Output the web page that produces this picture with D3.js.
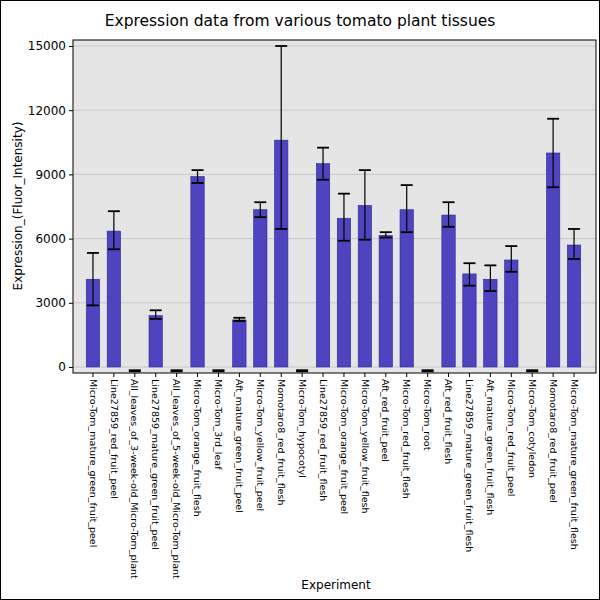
<!DOCTYPE html><html><head><script src="https://cdn.jsdelivr.net/npm/d3@7"></script>
<style>body{margin:0;background:#fff}</style></head><body><svg id="c" width="600" height="600"></svg>
<script>
const categories=["Micro-Tom_mature_green_fruit_peel","Line27859_red_fruit_peel","All_leaves_of_3-week-old_Micro-Tom_plant","Line27859_mature_green_fruit_peel","All_leaves_of_5-week-old_Micro-Tom_plant","Micro-Tom_orange_fruit_flesh","Micro-Tom_3rd_leaf","Aft_mature_green_fruit_peel","Micro-Tom_yellow_fruit_peel","Momotaro8_red_fruit_flesh","Micro-Tom_hypocotyl","Line27859_red_fruit_flesh","Micro-Tom_orange_fruit_peel","Micro-Tom_yellow_fruit_flesh","Aft_red_fruit_peel","Micro-Tom_red_fruit_flesh","Micro-Tom_root","Aft_red_fruit_flesh","Line27859_mature_green_fruit_flesh","Aft_mature_green_fruit_flesh","Micro-Tom_red_fruit_peel","Micro-Tom_cotyledon","Momotaro8_red_fruit_peel","Micro-Tom_mature_green_fruit_flesh"];
const values=[4100,6350,0,2400,0,8900,0,2200,7350,10600,0,9500,6950,7550,6150,7350,0,7100,4350,4100,5000,0,10000,5700];
const errLow=[2880,5500,-200,2250,-200,8600,-200,2150,7000,6450,-200,8750,5900,5950,6050,6300,-200,6550,3800,3550,4450,-200,8400,5050];
const errHigh=[5330,7280,-150,2650,-150,9200,-150,2300,7700,15000,-150,10250,8100,9200,6300,8500,-150,7700,4850,4750,5650,-150,11600,6450];
const yTicks=[0,3000,6000,9000,12000,15000];
const svg=d3.select("#c");
const m={l:73,r:596,t:40,b:373};
svg.append("rect").attr("x",0.5).attr("y",0.5).attr("width",599).attr("height",599).attr("fill","none").attr("stroke","#000");
const x=d3.scaleBand().domain(categories).range([82.5,584.5]).paddingInner(0.36).paddingOuter(0.18);
const y=d3.scaleLinear().domain([-280,15280]).range([m.b,m.t]);
svg.append("rect").attr("x",m.l).attr("y",m.t).attr("width",m.r-m.l).attr("height",m.b-m.t).attr("fill","#e5e5e5");
svg.append("g").selectAll("line").data(yTicks).join("line").attr("x1",m.l).attr("x2",m.r).attr("y1",d=>y(d)).attr("y2",d=>y(d)).attr("stroke","#c8c8c8");
svg.append("g").selectAll("rect").data(values).join("rect").attr("x",(d,i)=>x(categories[i])).attr("width",x.bandwidth())
 .attr("y",d=>y(Math.max(d,0))).attr("height",d=>Math.abs(y(d)-y(0))).attr("fill","#4f44c0").attr("stroke","#2e2590").attr("stroke-width",0.6);
const eg=svg.append("g").attr("stroke","#000").attr("stroke-width",1.2);
categories.forEach((c,i)=>{const cx=x(c)+x.bandwidth()/2,w=6;
 eg.append("line").attr("x1",cx).attr("x2",cx).attr("y1",y(errLow[i])).attr("y2",y(errHigh[i]));
 [errLow[i],errHigh[i]].forEach(v=>eg.append("line").attr("x1",cx-w).attr("x2",cx+w).attr("y1",y(v)).attr("y2",y(v)).attr("stroke-width",1.8));});
svg.append("rect").attr("x",m.l).attr("y",m.t).attr("width",m.r-m.l).attr("height",m.b-m.t).attr("fill","none").attr("stroke","#000");
const ya=svg.append("g").attr("transform",`translate(${m.l},0)`).call(d3.axisLeft(y).tickValues(yTicks).tickFormat(d3.format("d")).tickSize(4));
ya.select(".domain").remove(); ya.selectAll("text").attr("font-family","DejaVu Sans").attr("font-size",12).attr("fill","#000");
const xa=svg.append("g").attr("transform",`translate(0,${m.b})`).call(d3.axisBottom(x).tickSize(4));
xa.select(".domain").remove();
xa.selectAll("text").attr("font-family","DejaVu Sans").attr("font-size",9.5).attr("fill","#000").attr("text-anchor","start")
 .attr("transform","rotate(90)").attr("x",6).attr("y",0).attr("dy","0.35em");
svg.append("text").attr("x",300).attr("y",26).attr("text-anchor","middle").attr("font-family","DejaVu Sans").attr("font-size",15.5).text("Expression data from various tomato plant tissues");
svg.append("text").attr("x",336).attr("y",589).attr("text-anchor","middle").attr("font-family","DejaVu Sans").attr("font-size",12).text("Experiment");
svg.append("text").attr("transform","translate(22,206) rotate(-90)").attr("text-anchor","middle").attr("font-family","DejaVu Sans").attr("font-size",12).text("Expression_(Fluor_Intensity)");
</script></body></html>
